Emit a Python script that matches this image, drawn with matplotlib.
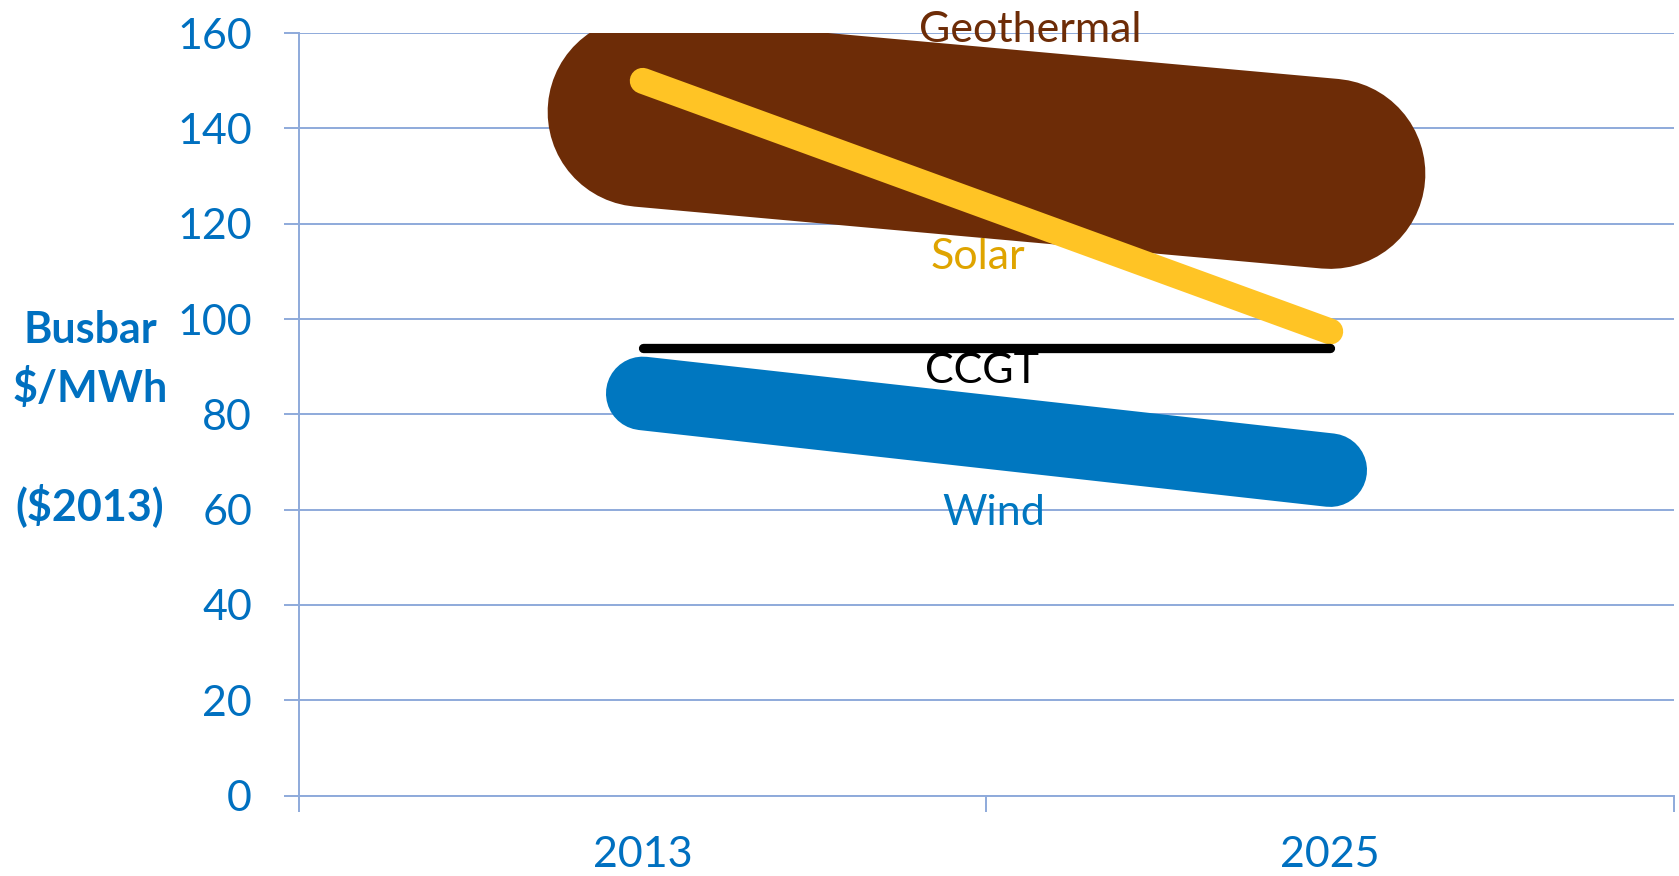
import numpy as np
import matplotlib
matplotlib.use('Agg')
import matplotlib.pyplot as plt

plt.rcParams['font.family'] = ['Lato', 'DejaVu Sans']

# data
years = ['2013', '2025']
geothermal = [143.5, 130.5]
solar = [150.0, 97.4]
ccgt = [93.9, 93.9]
wind = [84.4, 68.3]

blue = '#0070C0'
grid_c = '#8EAADB'

fig = plt.figure(figsize=(16.79, 8.76), dpi=100)
ax = fig.add_axes([0.1781, 0.0918, 0.8189, 0.8703])

x = np.arange(len(years)) + 0.5

# wide round-capped lines, Excel style
ax.plot(x, geothermal, color='#6D2C07', lw=137, solid_capstyle='round', zorder=3)
ax.plot(x, solar, color='#FFC425', lw=18.7, solid_capstyle='round', zorder=4)
ax.plot(x, ccgt, color='black', lw=6.7, solid_capstyle='round', zorder=5)
ax.plot(x, wind, color='#0077C0', lw=53, solid_capstyle='round', zorder=4)

# series labels
ax.text(1.063, 158.2, 'Geothermal', color='#6D2C07', fontsize=31, ha='center', va='baseline', zorder=6)
ax.text(0.988, 110.5, 'Solar', color='#DFA400', fontsize=31, ha='center', va='baseline', zorder=6)
ax.text(0.993, 86.5, 'CCGT', color='black', fontsize=31, ha='center', va='baseline', zorder=6)
ax.text(1.011, 56.8, 'Wind', color='#0077C0', fontsize=31, ha='center', va='baseline', zorder=6)

ax.set_xlim(0, 2)
ax.set_ylim(0, 160)
ax.set_yticks(np.arange(0, 161, 20))
ax.yaxis.grid(True, color=grid_c, lw=1.4)
ax.set_axisbelow(True)

ax.set_xticks([0, 1, 2])
ax.set_xticklabels([])
ax.set_xticks(x, minor=True)
ax.set_xticklabels(years, minor=True)

ax.tick_params(axis='y', direction='out', length=10.8, width=1.4, color=grid_c,
               pad=23, labelsize=31, labelcolor=blue)
ax.tick_params(axis='x', which='major', direction='out', length=11.5, width=1.4, color=grid_c)
ax.tick_params(axis='x', which='minor', length=0, pad=29, labelsize=31, labelcolor=blue)

for s in ['top', 'right']:
    ax.spines[s].set_visible(False)
for s in ['left', 'bottom']:
    ax.spines[s].set_color(grid_c)
    ax.spines[s].set_linewidth(1.4)

# axis title, one line at a time
ylab = ['Busbar', r'\$/MWh', '', r'(\$2013)']
base = [343, 401.7, 460.3, 520]
for t, b in zip(ylab, base):
    if t:
        fig.text(90 / 1679, 1 - b / 876, t, color=blue, fontsize=31, fontweight='bold',
                 ha='center', va='baseline')

fig.savefig('out.png', dpi=100)
